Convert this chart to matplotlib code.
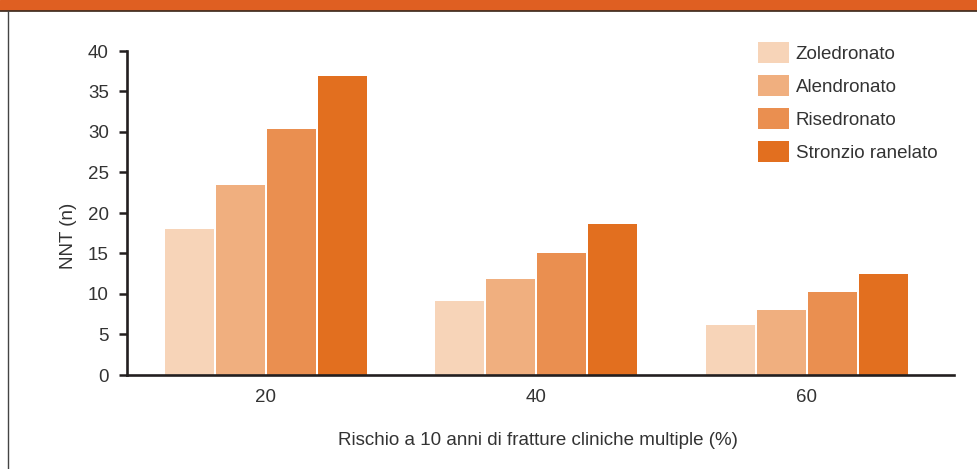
import numpy as np
import matplotlib.pyplot as plt
from matplotlib.patches import Rectangle
from matplotlib.lines import Line2D

plt.rcParams['font.family'] = ['Liberation Sans', 'DejaVu Sans']

risk = [20, 40, 60]
series = ['Zoledronato', 'Alendronato', 'Risedronato', 'Stronzio ranelato']
zoledronato = [18.0, 9.1, 6.2]
alendronato = [23.5, 11.9, 8.0]
risedronato = [30.4, 15.1, 10.2]
stronzio = [36.9, 18.6, 12.5]
colors = ['#F7D4B8', '#F0AF7F', '#EA8F50', '#E26F1F']
yticks = [0, 5, 10, 15, 20, 25, 30, 35, 40]

fs = 13.5

fig = plt.figure(figsize=(9.77, 4.69), dpi=100)
ax = fig.add_axes([127 / 977, 1 - 375 / 469, (954 - 127) / 977, (375 - 51) / 469])

pitch = 3.77
width = 3.62
x = np.array(risk, dtype=float)
for i, (name, vals) in enumerate(zip(series, [zoledronato, alendronato, risedronato, stronzio])):
    ax.bar(x + (i - 1.5) * pitch, vals, width=width, color=colors[i], label=name, zorder=2)

ax.set_xlim(9.73, 70.87)
ax.set_ylim(0, 40)
ax.set_yticks(yticks)
ax.set_xticks(risk)
ax.tick_params(axis='y', direction='out', length=6, width=1.8, color='#231F20',
               labelsize=fs, labelcolor='#333333', pad=7)
ax.tick_params(axis='x', length=0, labelsize=fs, labelcolor='#333333', pad=10)

for s in ['top', 'right']:
    ax.spines[s].set_visible(False)
for s in ['left', 'bottom']:
    ax.spines[s].set_linewidth(1.9)
    ax.spines[s].set_color('#231F20')

ax.set_ylabel('NNT (n)', fontsize=fs, color='#333333')
ax.yaxis.set_label_coords(-0.06, 0.43)
ax.set_xlabel('Rischio a 10 anni di fratture cliniche multiple (%)', fontsize=fs, color='#333333')
ax.xaxis.set_label_coords(0.497, -0.175)

leg = ax.legend(loc='upper left', bbox_to_anchor=(0.752, 1.058), frameon=False, fontsize=fs,
                borderpad=0, handlelength=1.65, handleheight=1.38, handletextpad=0.35,
                labelspacing=0.62, labelcolor='#333333')

# orange band and frame on the left
fig.patches.append(Rectangle((0, 1 - 10 / 469), 1, 10 / 469, transform=fig.transFigure,
                             color='#DF5F22', zorder=0))
fig.lines.append(Line2D([0, 1], [1 - 11 / 469] * 2, transform=fig.transFigure,
                        color='#3a2a20', linewidth=1.2))
fig.lines.append(Line2D([8 / 977] * 2, [0, 1 - 11 / 469], transform=fig.transFigure,
                        color='#444444', linewidth=1.0))

plt.savefig('out.png', dpi=100)
